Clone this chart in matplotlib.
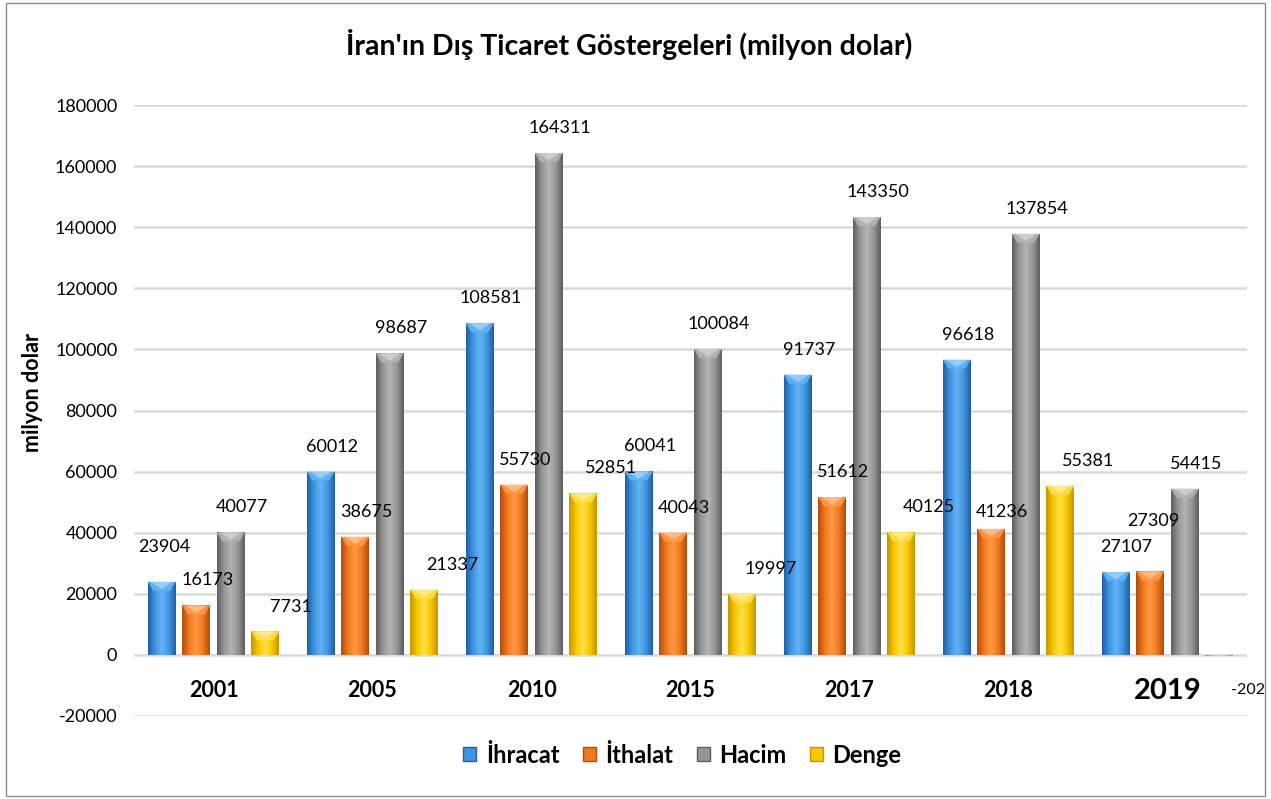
import numpy as np
import matplotlib.pyplot as plt
from matplotlib.colors import LinearSegmentedColormap
from matplotlib.patches import Patch, Polygon, Rectangle

plt.rcParams['font.family'] = ['Lato', 'DejaVu Sans']

# veriler
years = ['2001', '2005', '2010', '2015', '2017', '2018', '2019']
ihracat = [23904, 60012, 108581, 60041, 91737, 96618, 27107]
ithalat = [16173, 38675, 55730, 40043, 51612, 41236, 27309]
hacim = [40077, 98687, 164311, 100084, 143350, 137854, 54415]
denge = [7731, 21337, 52851, 19997, 40125, 55381, -202]

series = [('İhracat', ihracat), ('İthalat', ithalat), ('Hacim', hacim), ('Denge', denge)]
# renkler: koyu kenar, orta, açık
colors = [('#1f5fa6', '#3f95e0', '#62b4f4'),
          ('#b24c0c', '#f07a1e', '#ff9a45'),
          ('#5e5e5e', '#969696', '#b4b4b4'),
          ('#c79600', '#f7c800', '#ffe04a')]

# etiket kaydırmaları (piksel)
label_dx = [11, 11, 11, 28]
label_dy = 25
label_fix = {(0, 0): (3, 35), (1, 6): (3, 50), (3, 0): (26, 24), (1, 5): (11, 17)}

fig = plt.figure(figsize=(12.71, 7.99), dpi=100)
ax = fig.add_axes([134 / 1271, 83 / 799, 1113 / 1271, 611 / 799])
ymin, ymax = -20000, 180000
ax.set_xlim(-0.5, 6.5)
ax.set_ylim(ymin, ymax)

px_y = (ymax - ymin) / 611.0
w = 0.176
step = 0.217
x = np.arange(len(years))

for si, (name, vals) in enumerate(series):
    dark, mid, light = colors[si]
    cmap = LinearSegmentedColormap.from_list(name, [dark, mid, light, mid, dark])
    grad = np.linspace(0, 1, 64).reshape(1, -1)
    xs = x + (si - 1.5) * step
    bars = ax.bar(xs, vals, w, color=mid, edgecolor='none', zorder=3)
    for j, b in enumerate(bars):
        v = vals[j]
        lo, hi = min(0, v), max(0, v)
        img = ax.imshow(grad, extent=(xs[j] - w / 2, xs[j] + w / 2, lo, hi),
                        aspect='auto', cmap=cmap, zorder=3.5, interpolation='bicubic')
        img.set_clip_path(b)
        if v > 4000:
            d = 9 * px_y
            ax.add_patch(Polygon([(xs[j] - w / 2, v), (xs[j] + w / 2, v),
                                  (xs[j] + w / 2 - w * 0.2, v - d), (xs[j] - w / 2 + w * 0.2, v - d)],
                                 closed=True, facecolor=light, edgecolor='none', alpha=0.9, zorder=4))
            ax.add_patch(Polygon([(xs[j] - w / 2 + w * 0.1, v), (xs[j] + w / 2 - w * 0.1, v),
                                  (xs[j], v - d * 0.8)],
                                 closed=True, facecolor='white', edgecolor='none', alpha=0.35, zorder=4))
        dx, dy = label_fix.get((si, j), (label_dx[si], label_dy))
        if v < 0:
            dx, dy = 29, -34
        ax.annotate(str(v), (xs[j], v), xytext=(dx, dy), textcoords='offset pixels',
                    ha='center', va='center', fontsize=13 if v >= 0 else 11.5, color='black', zorder=5)

ax.set_xlim(-0.5, 6.5)
ax.set_ylim(ymin, ymax)

# kategori etiketleri
for j, yr in enumerate(years):
    ax.annotate(yr, (x[j], 0), xytext=(0, -36), textcoords='offset pixels',
                ha='center', va='center', fontsize=21 if yr == '2019' else 15.5,
                fontweight='bold')

ax.set_yticks(np.arange(ymin, ymax + 1, 20000))
ax.set_yticklabels([str(t) for t in range(ymin, ymax + 1, 20000)], fontsize=13)
ax.tick_params(axis='y', length=0, pad=12)
ax.set_xticks([])
ax.grid(axis='y', color='#d9d9d9', linewidth=1.8, zorder=0)
ax.set_axisbelow(True)
for s in ax.spines.values():
    s.set_visible(False)

ax.set_ylabel('milyon dolar', fontsize=15.5, fontweight='bold')
ax.yaxis.set_label_coords(-0.082, 0.53)

fig.text(0.495, 0.944, "İran'ın Dış Ticaret Göstergeleri (milyon dolar)",
         ha='center', va='center', fontsize=20.5, fontweight='bold')

handles = [Patch(facecolor=c[1], edgecolor=c[0], label=n) for (n, _), c in zip(series, colors)]
fig.legend(handles=handles, loc='center', bbox_to_anchor=(0.537, 0.055), ncol=4,
           frameon=False, prop={'size': 17, 'weight': 'bold'},
           handlelength=0.55, handleheight=0.55, handletextpad=0.4, columnspacing=1.0)

fig.add_artist(Rectangle((0.005, 0.004), 0.99, 0.992, transform=fig.transFigure,
                         fill=False, edgecolor='#8c8c8c', linewidth=1))

fig.savefig('out.png', dpi=100)
